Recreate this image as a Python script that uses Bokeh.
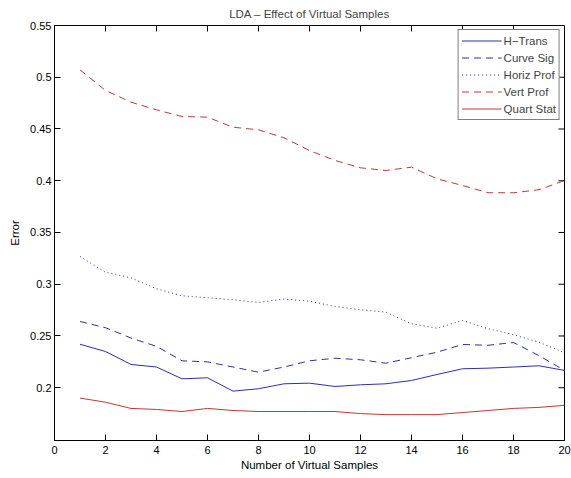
import math
from bokeh.plotting import figure
from bokeh.models import FixedTicker, CustomJSTickFormatter, Range1d, Legend, LegendItem
from bokeh.embed import file_html
from bokeh.resources import INLINE

# ---- data ----
samples = list(range(1, 21))
h_trans = [0.242, 0.235, 0.2225, 0.220, 0.2086, 0.2096, 0.1967, 0.199, 0.2038, 0.2044,
           0.2012, 0.2028, 0.2038, 0.207, 0.2128, 0.2183, 0.2189, 0.220, 0.2212, 0.2167]
curve_sig = [0.264, 0.258, 0.248, 0.240, 0.226, 0.225, 0.220, 0.215, 0.220, 0.226,
             0.2285, 0.227, 0.2237, 0.229, 0.2343, 0.2418, 0.241, 0.2437, 0.231, 0.2167]
horiz_prof = [0.3268, 0.3116, 0.3062, 0.2956, 0.2888, 0.2869, 0.285, 0.2824, 0.2856, 0.2836,
              0.2785, 0.2753, 0.273, 0.2618, 0.2575, 0.265, 0.257, 0.2512, 0.244, 0.2338]
vert_prof = [0.5072, 0.4872, 0.4759, 0.4685, 0.4621, 0.4614, 0.4517, 0.4492, 0.4415, 0.4292,
             0.4196, 0.4125, 0.4099, 0.4131, 0.4019, 0.3954, 0.3884, 0.3884, 0.3913, 0.4002]
quart_stat = [0.190, 0.186, 0.180, 0.179, 0.177, 0.180, 0.178, 0.177, 0.177, 0.177,
              0.177, 0.175, 0.174, 0.174, 0.174, 0.176, 0.178, 0.180, 0.181, 0.183]
x_ticks = [0, 2, 4, 6, 8, 10, 12, 14, 16, 18, 20]
y_ticks = [0.2, 0.25, 0.3, 0.35, 0.4, 0.45, 0.5, 0.55]
x_lim = (0, 20)
y_lim = (0.149, 0.55)
title_text = "LDA \u2013 Effect of Virtual Samples"
x_label = "Number of Virtual Samples"
y_label = "Error"

FONT = "Liberation Sans"
BLUE = "#2f2fa8"
RED = "#c03838"
TICK_LEN = 6

p = figure(width=571, height=478, output_backend="svg", toolbar_location=None,
           x_range=Range1d(*x_lim), y_range=Range1d(*y_lim),
           min_border_left=54, min_border_right=7, min_border_top=25, min_border_bottom=38,
           x_axis_label=x_label, y_axis_label=y_label)

p.title.text = title_text
p.title.text_font = FONT
p.title.text_font_size = "11.5px"
p.title.text_font_style = "normal"
p.title.align = "center"
p.title.vertical_align = "top"
p.title.standoff = 7
p.title.offset = 0

p.grid.visible = False
p.outline_line_color = "black"
p.outline_line_width = 1
p.background_fill_color = "white"
p.border_fill_color = "white"

fmt = CustomJSTickFormatter(code="return String(Math.round(tick*100)/100);")

for ax in p.xaxis:
    ax.ticker = FixedTicker(ticks=x_ticks)
    ax.major_label_standoff = 5
    ax.axis_label_standoff = 2
for ax in p.yaxis:
    ax.ticker = FixedTicker(ticks=y_ticks)
    ax.formatter = fmt
    ax.major_label_standoff = 3
    ax.axis_label_standoff = 6

for ax in p.axis:
    ax.major_tick_in = TICK_LEN
    ax.major_tick_out = 0
    ax.minor_tick_line_color = None
    ax.axis_line_color = "black"
    ax.major_tick_line_color = "black"
    ax.major_label_text_font = FONT
    ax.major_label_text_font_size = "11px"
    ax.major_label_text_color = "black"
    ax.axis_label_text_font = FONT
    ax.axis_label_text_font_style = "normal"
    ax.axis_label_text_color = "black"
    ax.axis_label_text_font_size = "11.5px"

# mirrored ticks on the top and right edges of the box
p.ray(x=x_ticks, y=[y_lim[1]] * len(x_ticks), length=TICK_LEN, length_units="screen",
      angle=-math.pi / 2, line_color="black", line_width=1)
p.ray(x=[x_lim[1]] * len(y_ticks), y=y_ticks, length=TICK_LEN, length_units="screen",
      angle=math.pi, line_color="black", line_width=1)

r1 = p.line(samples, h_trans, line_color=BLUE, line_width=1)
r2 = p.line(samples, curve_sig, line_color=BLUE, line_width=1, line_dash="7 5")
r3 = p.line(samples, horiz_prof, line_color=BLUE, line_width=1, line_dash="1 3")
r4 = p.line(samples, vert_prof, line_color=RED, line_width=1, line_dash="7 5")
r5 = p.line(samples, quart_stat, line_color=RED, line_width=1)

legend = Legend(items=[LegendItem(label="H\u2212Trans", renderers=[r1]),
                       LegendItem(label="Curve Sig", renderers=[r2]),
                       LegendItem(label="Horiz Prof", renderers=[r3]),
                       LegendItem(label="Vert Prof", renderers=[r4]),
                       LegendItem(label="Quart Stat", renderers=[r5])],
                location="top_right", margin=4, padding=3, spacing=2,
                glyph_width=40, glyph_height=15, label_height=15, label_standoff=2,
                label_text_font=FONT, label_text_font_size="11.5px",
                border_line_color="black", border_line_width=1,
                background_fill_color="white", background_fill_alpha=1)
p.add_layout(legend, "center")

open("out.html", "w").write(file_html(p, INLINE))
